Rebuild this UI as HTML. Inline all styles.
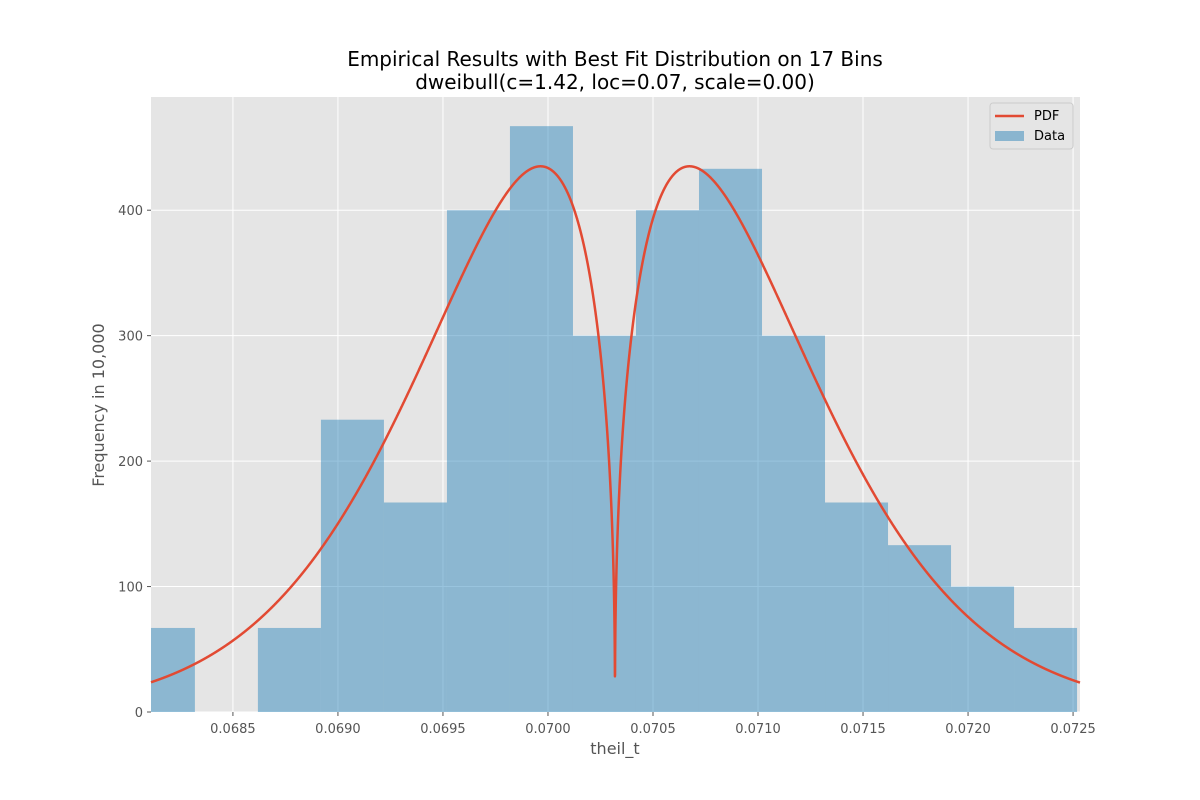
<!DOCTYPE html>
<html><head><meta charset="utf-8"><style>
body{margin:0;background:#fff;}
svg{display:block;font-family:"DejaVu Sans","Liberation Sans",sans-serif;}
</style></head><body>
<svg id="chart" width="1200" height="800">
<rect x="0" y="0" width="1200" height="800" fill="#fff"/>
<text x="615" y="66" text-anchor="middle" font-size="20" fill="#000">Empirical Results with Best Fit Distribution on 17 Bins</text>
<text x="615" y="89" text-anchor="middle" font-size="20" fill="#000">dweibull(c=1.42, loc=0.07, scale=0.00)</text>
<rect x="151" y="97" width="929" height="615" fill="#e5e5e5"/>
<g id="grid"></g>
<g id="bars"></g>
<g id="curve"></g>
<g id="ticks"></g>
<text x="615" y="754" text-anchor="middle" font-size="16" fill="#555">theil_t</text>
<text transform="translate(104,405) rotate(-90)" text-anchor="middle" font-size="16" fill="#555">Frequency in 10,000</text>
<g>
<rect x="990" y="103" width="83" height="46" rx="3" fill="#e5e5e5" stroke="#ccc" stroke-width="1"/>
<line x1="995" y1="116" x2="1024" y2="116" stroke="#e24a33" stroke-width="2.5"/>
<text x="1034" y="120" font-size="13" fill="#000">PDF</text>
<rect x="995" y="131" width="29" height="10" fill="#8ab5cf"/>
<text x="1034" y="140" font-size="13" fill="#000">Data</text>
</g>
</svg>
<script>
const binStart = 0.068019;
const binWidth = 0.0003;
const counts = [67, 0, 67, 233, 167, 400, 467, 300, 400, 433, 300, 167, 133, 100, 67];
const xTicks = [0.0685, 0.0690, 0.0695, 0.0700, 0.0705, 0.0710, 0.0715, 0.0720, 0.0725];
const yTicks = [0, 100, 200, 300, 400];
const fitC = 1.42, fitLoc = 0.070319, fitScale = 0.000836, fitPeak = 435;

const X0 = 0.068110, X1 = 0.072533, PL = 151, PR = 1080, PB = 712, PT = 97;
const xs = v => PL + (v - X0) / (X1 - X0) * (PR - PL);
const ys = v => PB - v * 1.2545;
const NS = 'http://www.w3.org/2000/svg';
function mk(tag, attrs, parent){const e=document.createElementNS(NS,tag);for(const k in attrs)e.setAttribute(k,attrs[k]);parent.appendChild(e);return e;}
const grid=document.getElementById('grid'), bars=document.getElementById('bars'), curve=document.getElementById('curve'), ticks=document.getElementById('ticks');
xTicks.forEach(t=>{const x=xs(t);
 let l=mk('line',{x1:x,x2:x,y1:PT,y2:PB,stroke:'#fff','stroke-width':1},grid);
 
 
 let tk=mk('line',{x1:x,x2:x,y1:PB,y2:PB+4,stroke:'#555'},ticks);
 
 
 let tx=mk('text',{x:x,y:PB+21,'text-anchor':'middle','font-size':13,fill:'#555'},ticks);tx.textContent=t.toFixed(4);
 
 
});
yTicks.forEach(t=>{const y=ys(t);
 let l=mk('line',{x1:PL,x2:PR,y1:y,y2:y,stroke:'#fff','stroke-width':1},grid);
 
 
 let tk=mk('line',{x1:PL-4,x2:PL,y1:y,y2:y,stroke:'#555'},ticks);
 
 
 let tx=mk('text',{x:PL-8,y:y+5,'text-anchor':'end','font-size':13,fill:'#555'},ticks);tx.textContent=t;
 
 
});
counts.forEach((c,i)=>{ if(!c) return;
 let a=Math.max(xs(binStart+i*binWidth),PL), b=Math.min(xs(binStart+(i+1)*binWidth),PR);
 let r=mk('rect',{x:a,y:ys(c),width:b-a,height:ys(0)-ys(c),fill:'#348abd','fill-opacity':0.5},bars);
 
 
});
function pdf(x){const z=Math.abs((x-fitLoc)/fitScale);return Math.pow(z,fitC-1)*Math.exp(-Math.pow(z,fitC));}
const zm=Math.pow((fitC-1)/fitC,1/fitC), pm=Math.pow(zm,fitC-1)*Math.exp(-Math.pow(zm,fitC));
let pts=[];const N=8000;
for(let i=0;i<=N;i++){const x=X0+(X1-X0)*i/N;let v=pdf(x)/pm*fitPeak;if(Math.abs(x-fitLoc)<0.0001)v=Math.max(v,27);pts.push(xs(x).toFixed(2)+','+ys(v).toFixed(2));}
let p=mk('polyline',{points:pts.join(' '),fill:'none',stroke:'#e24a33','stroke-width':2.5,'stroke-linejoin':'round'},curve);


</script>
</body></html>
